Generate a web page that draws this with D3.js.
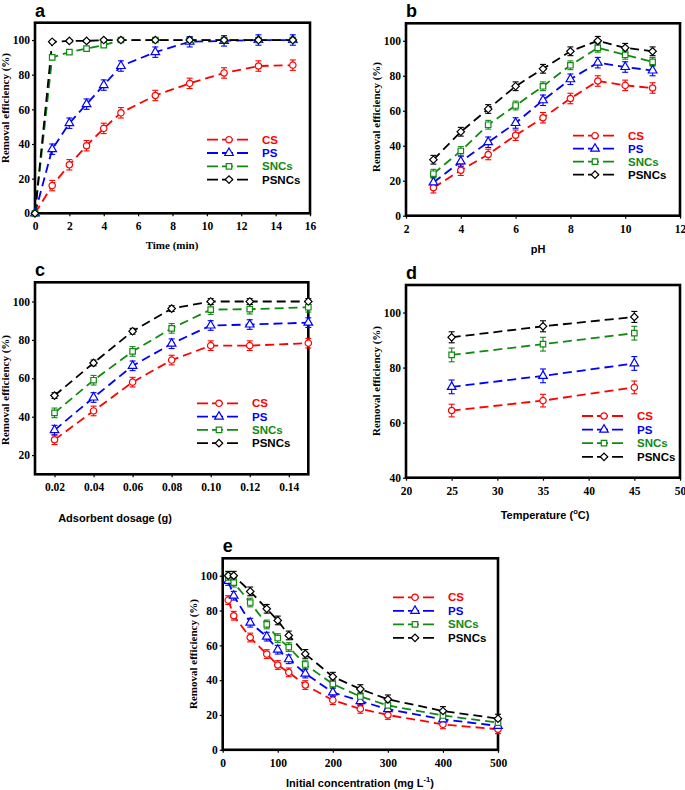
<!DOCTYPE html>
<html>
<head>
<meta charset="utf-8">
<script src="https://cdn.jsdelivr.net/npm/d3@7"></script>
<style>
  body { margin: 0; background: #fff; }
  .tick text { font-family: 'Liberation Serif', serif; font-weight: bold; font-size: 11.5px; fill: #000; }
  .tick line { stroke: #000; stroke-width: 1.2; }
</style>
</head>
<body>
<div class="Figure"></div>
<script>
// series names, shared by all panels
const seriesNames = ['CS', 'PS', 'SNCs', 'PSNCs'];

// a: contact time
const aX = [0, 1, 2, 3, 4, 5, 7, 9, 11, 13, 15];
const aCS = [0, 16, 28, 39, 49, 58, 68, 75, 81, 85, 85.5];
const aPS = [0, 37, 52, 63, 74, 85, 93, 99, 99.5, 100, 100];
const aSNCs = [0, 90, 93, 95, 97, 100, 100, 100, 100, 100, 100];
const aPSNCs = [0, 99, 99.5, 99.5, 100, 100, 100, 100, 100, 100, 100];
const aErr = [3, 3, 1, 0.8];

// b: pH
const bX = [3, 4, 5, 6, 7, 8, 9, 10, 11];
const bCS = [16, 26, 35, 46, 56, 67, 77, 74.5, 73];
const bPS = [19, 31, 42, 53, 66, 78, 87.5, 85, 83];
const bSNCs = [24, 37, 52, 63, 74, 86, 96, 92, 88];
const bPSNCs = [32, 48, 61, 74, 84, 94, 100, 96, 94];
const bErr = [3, 3, 2.5, 2.5];

// c: adsorbent dosage
const cX = [0.02, 0.04, 0.06, 0.08, 0.10, 0.12, 0.15];
const cCS = [28, 43, 58, 69.5, 77, 77, 78.3];
const cPS = [33, 50, 66.5, 78, 87.5, 88, 89];
const cSNCs = [42, 59, 74, 86, 95.8, 96, 97];
const cPSNCs = [51, 68, 84.5, 96.3, 100, 100, 100];
const cErr = [2.5, 2.5, 2.5, 1.5];

// d: temperature
const dX = [25, 35, 45];
const dCS = [64.4, 68, 72.8];
const dPS = [73, 77, 81.5];
const dSNCs = [84.6, 88.5, 92.5];
const dPSNCs = [91, 95, 98.4];
const dErr = [2.3, 2.5, 2.5, 2];

// e: initial concentration
const eX = [10, 20, 50, 80, 100, 120, 150, 200, 250, 300, 400, 500];
const eCS = [86, 77, 64.5, 55, 48.7, 44.5, 37.2, 28.5, 23.5, 20, 14.6, 11.8];
const ePS = [97, 88.5, 73, 65, 57.5, 52, 43.8, 33, 28, 23.3, 17.5, 13.7];
const eSNCs = [99, 96, 84.6, 72, 64.2, 59, 49, 37.8, 30.6, 25.5, 19.7, 15.6];
const ePSNCs = [100, 100, 91, 81, 74.3, 65.7, 55.1, 42, 34.9, 29, 22.3, 17.9];
const eErr = [2.5, 2.5, 2.5, 2.5];

const colors = ['#ff0000', '#0000ff', '#118a11', '#000000'];
const symbols = [d3.symbolCircle, d3.symbolTriangle, d3.symbolSquare, d3.symbolSquare];
const symSizes = [32, 32, 30, 28];
const symRotate = [0, 0, 0, 45];

const panels = [
  {
    letter: 'a', box: [35, 22.7, 310, 213.3], xDom: [0, 16], yDom: [0, 110],
    xTicks: d3.range(0, 17, 2), yTicks: d3.range(0, 101, 20), fmt: d3.format('d'),
    xs: aX, ys: [aCS, aPS, aSNCs, aPSNCs], err: aErr,
    xTitle: ['Time (min)'], xTitleSerif: true, xTitlePos: [172, 249], yTitleY: 108,
    legend: [207, 139.7, 13.3]
  },
  {
    letter: 'b', box: [406, 23.3, 680, 215.7], xDom: [2, 12], yDom: [0, 110],
    xTicks: d3.range(2, 13, 2), yTicks: d3.range(0, 101, 20), fmt: d3.format('d'),
    xs: bX, ys: [bCS, bPS, bSNCs, bPSNCs], err: bErr,
    xTitle: ['pH'], xTitlePos: [538, 253], yTitleY: 117,
    legend: [573, 135.7, 13]
  },
  {
    letter: 'c', box: [35, 282.3, 308.3, 474.3], xDom: [0.01, 0.15], yDom: [10, 110],
    xTicks: [0.02, 0.04, 0.06, 0.08, 0.10, 0.12, 0.14], yTicks: d3.range(20, 101, 20), fmt: d3.format('.2f'),
    xs: cX, ys: [cCS, cPS, cSNCs, cPSNCs], err: cErr,
    xTitle: ['Adsorbent dosage (g)'], xTitlePos: [115, 522], yTitleY: 390,
    legend: [197, 403.3, 13.3]
  },
  {
    letter: 'd', box: [406, 285, 680, 477.7], xDom: [20, 50], yDom: [40, 110],
    xTicks: d3.range(20, 51, 5), yTicks: d3.range(40, 101, 20), fmt: d3.format('d'),
    xs: dX, ys: [dCS, dPS, dSNCs, dPSNCs], err: dErr,
    xTitle: ['Temperature (', 'o', 'C)'], xTitlePos: [545, 519], yTitleY: 381,
    legend: [582, 416, 13.6]
  },
  {
    letter: 'e', box: [222.7, 558.3, 498, 749.8], xDom: [0, 500], yDom: [0, 110],
    xTicks: d3.range(0, 501, 100), yTicks: d3.range(0, 101, 20), fmt: d3.format('d'),
    xs: eX, ys: [eCS, ePS, eSNCs, ePSNCs], err: eErr,
    xTitle: ['Initial concentration (mg L', '-1', ')'], xTitlePos: [360, 787], yTitleY: 654,
    legend: [393, 597.3, 13.5]
  }
];

const svg = d3.select('.Figure')
  .append('svg')
  .attr('width', 685)
  .attr('height', 790);

panels.forEach(drawPanel);

function drawPanel(p) {
  const [x0, y0, x1, y1] = p.box;

  const xScale = d3.scaleLinear().domain(p.xDom).range([x0, x1]);
  const yScale = d3.scaleLinear().domain(p.yDom).range([y1, y0]);

  const g = svg.append('g').attr('class', 'panel ' + p.letter);

  // axes
  g.append('g')
    .attr('class', 'axis x')
    .attr('transform', `translate(0, ${y1})`)
    .call(d3.axisBottom(xScale).tickValues(p.xTicks).tickFormat(p.fmt).tickSize(3).tickPadding(6))
    .call(a => a.select('.domain').remove());

  g.append('g')
    .attr('class', 'axis y')
    .attr('transform', `translate(${x0}, 0)`)
    .call(d3.axisLeft(yScale).tickValues(p.yTicks).tickFormat(d3.format('d')).tickSize(3).tickPadding(2))
    .call(a => a.select('.domain').remove());

  // frame
  g.append('rect')
    .attr('x', x0)
    .attr('y', y0)
    .attr('width', x1 - x0)
    .attr('height', y1 - y0)
    .attr('fill', 'none')
    .attr('stroke', '#000')
    .attr('stroke-width', 2.6);

  const line = d3.line()
    .x(d => xScale(d.x))
    .y(d => yScale(d.y));

  const all = p.ys.map((ys, i) => ys.map((y, j) => ({x: p.xs[j], y: y, i: i, e: p.err[i]})));

  // dashed lines
  g.append('g').attr('class', 'lines')
    .selectAll('path')
    .data(all)
    .enter().append('path')
    .attr('d', line)
    .attr('fill', 'none')
    .attr('stroke', (d, i) => colors[i])
    .attr('stroke-width', 1.8)
    .attr('stroke-dasharray', '9,5');

  // error bars
  const pts = all.flat().filter(d => d.y > 0);
  const eb = g.append('g').attr('class', 'errorbars')
    .selectAll('g')
    .data(pts)
    .enter().append('g')
    .attr('stroke', d => colors[d.i])
    .attr('stroke-width', 1.1);

  eb.append('line')
    .attr('x1', d => xScale(d.x))
    .attr('x2', d => xScale(d.x))
    .attr('y1', d => yScale(d.y - d.e))
    .attr('y2', d => yScale(d.y + d.e));

  [-1, 1].forEach(s => {
    eb.append('line')
      .attr('x1', d => xScale(d.x) - 3)
      .attr('x2', d => xScale(d.x) + 3)
      .attr('y1', d => yScale(d.y + s * d.e))
      .attr('y2', d => yScale(d.y + s * d.e));
  });

  // markers
  g.append('g').attr('class', 'markers')
    .selectAll('path')
    .data(all.flat())
    .enter().append('path')
    .attr('d', d => d3.symbol(symbols[d.i], symSizes[d.i])())
    .attr('transform', d => `translate(${xScale(d.x)}, ${yScale(d.y)}) rotate(${symRotate[d.i]})`)
    .attr('fill', 'white')
    .attr('stroke', d => colors[d.i])
    .attr('stroke-width', 1.2);

  // panel letter
  g.append('text')
    .attr('x', x0)
    .attr('y', y0 - 6)
    .attr('font-family', 'Liberation Sans, Arial, sans-serif')
    .attr('font-weight', 'bold')
    .attr('font-size', 18)
    .text(p.letter);

  // x axis title
  const xt = g.append('text')
    .attr('x', p.xTitlePos[0])
    .attr('y', p.xTitlePos[1])
    .attr('text-anchor', 'middle')
    .attr('font-family', p.xTitleSerif ? 'Liberation Serif, serif' : 'Liberation Sans, Arial, sans-serif')
    .attr('font-weight', 'bold')
    .attr('font-size', 11);
  p.xTitle.forEach((t, k) => {
    const ts = xt.append('tspan').text(t);
    if (k === 1) ts.attr('font-size', 7.5).attr('dy', -5);
    if (k === 2) ts.attr('dy', 5);
  });

  // y axis title
  g.append('text')
    .attr('transform', `translate(${x0 - 26}, ${p.yTitleY}) rotate(-90)`)
    .attr('text-anchor', 'middle')
    .attr('font-family', 'Liberation Serif, serif')
    .attr('font-weight', 'bold')
    .attr('font-size', 11)
    .text('Removal efficiency (%)');

  // legend
  const [lx, ly, lh] = p.legend;
  const entry = g.append('g').attr('class', 'legend')
    .selectAll('g')
    .data(seriesNames)
    .enter().append('g')
    .attr('transform', (d, i) => `translate(${lx}, ${ly + i * lh})`);

  entry.append('line')
    .attr('x1', 0)
    .attr('x2', 44)
    .attr('stroke', (d, i) => colors[i])
    .attr('stroke-width', 1.8)
    .attr('stroke-dasharray', '11,4');

  entry.append('path')
    .attr('d', (d, i) => d3.symbol(symbols[i], symSizes[i])())
    .attr('transform', (d, i) => `translate(22, 0) rotate(${symRotate[i]})`)
    .attr('fill', 'white')
    .attr('stroke', (d, i) => colors[i])
    .attr('stroke-width', 1.2);

  entry.append('text')
    .attr('x', 55)
    .attr('y', 4)
    .attr('font-family', 'Liberation Sans, Arial, sans-serif')
    .attr('font-weight', 'bold')
    .attr('font-size', 11.5)
    .attr('fill', (d, i) => colors[i])
    .text(d => d);
}
</script>
</body>
</html>
